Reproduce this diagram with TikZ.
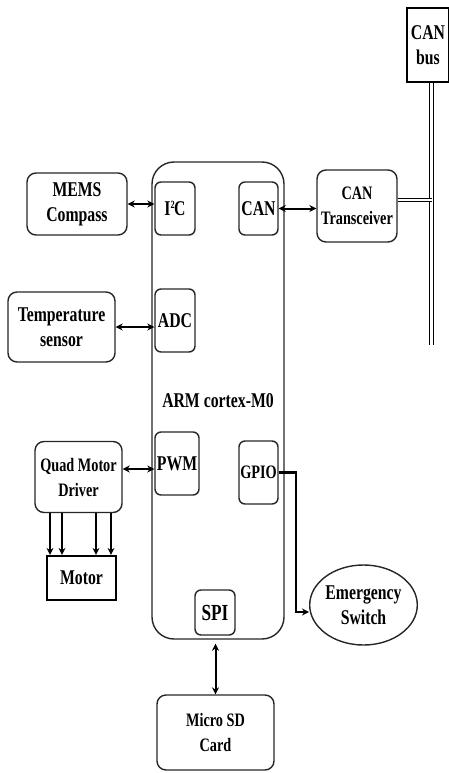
\documentclass[tikz,border=0pt]{standalone}
\usepackage{fontspec}
\setmainfont{Liberation Serif}[FakeStretch=0.75]
\usetikzlibrary{shapes.geometric, arrows.meta}

\begin{document}
\begin{tikzpicture}[
    x=1pt, y=-1pt,
    blockbox/.style={rectangle, draw=black!85, line width=1.4pt, rounded corners=9pt, align=center, inner sep=0pt, font=\fontsize{21}{25}\selectfont\bfseries},
    smallbox/.style={blockbox, font=\fontsize{19}{25}\selectfont\bfseries},
    portbox/.style={blockbox, rounded corners=6pt},
    plainbox/.style={rectangle, draw=black, line width=2.2pt, align=center, inner sep=0pt, font=\fontsize{21}{25}\selectfont\bfseries},
    ovalbox/.style={ellipse, draw=black!85, line width=1.4pt, inner sep=0pt, align=center, font=\fontsize{21}{25}\selectfont\bfseries},
    arr/.style={-{Stealth[length=7pt,width=7pt]}, line width=2pt},
    biarr/.style={{Stealth[length=7pt,width=7pt]}-{Stealth[length=7pt,width=7pt]}, line width=2pt},
    busline/.style={draw=black, double=white, double distance=2.5pt, line width=1.1pt}
]
\useasboundingbox (0,0) rectangle (449,773);

\node[blockbox, rounded corners=22pt, minimum width=132pt, minimum height=477pt] (arm) at (218,400.5) {ARM cortex-M0};

\node[portbox, minimum width=40pt, minimum height=53pt] (i2c) at (175,208.5) {I\textsuperscript{\fontsize{11}{11}\selectfont 2}\kern-1pt C};
\node[portbox, minimum width=39pt, minimum height=53pt] (can) at (258.5,208.5) {CAN};
\node[portbox, minimum width=40pt, minimum height=63pt] (adc) at (175,320.5) {ADC};
\node[portbox, minimum width=44pt, minimum height=63pt] (pwm) at (177,463.5) {PWM};
\node[portbox, minimum width=39pt, minimum height=63pt, font=\fontsize{19}{25}\selectfont\bfseries] (gpio) at (258.5,472.5) {GPIO};
\node[portbox, minimum width=40pt, minimum height=45pt, font=\fontsize{23}{25}\selectfont\bfseries] (spi) at (215,612.5) {SPI};

\node[blockbox, minimum width=100pt, minimum height=62pt] (mems) at (77,204) {MEMS\\Compass};
\node[blockbox, minimum width=107pt, minimum height=70pt] (temp) at (61.5,327) {Temperature\\sensor};
\node[smallbox, minimum width=87pt, minimum height=71pt] (quad) at (78.5,477) {Quad Motor\\Driver};
\node[plainbox, minimum width=69pt, minimum height=44pt] (motor) at (81.5,578) {Motor};
\node[smallbox, minimum width=80pt, minimum height=72pt] (trans) at (357,206) {CAN\\Transceiver};
\node[plainbox, minimum width=42pt, minimum height=74pt] (canbus) at (428,45) {CAN\\bus};
\node[smallbox, minimum width=117pt, minimum height=75pt] (sd) at (215.5,732.5) {Micro SD\\Card};
\node[ovalbox, minimum width=107pt, minimum height=80pt] (emerg) at (363.5,605) {Emergency\\Switch};

\coordinate (busend) at (431.5,345);

% links to the controller
\draw[biarr] (mems.east) -- (mems.east -| i2c.west);
\draw[biarr] (temp.east) -- (temp.east -| adc.west);
\draw[biarr] ([yshift=8pt]quad.east) -- ([yshift=8pt]quad.east -| pwm.west);
\draw[biarr] (can.east) -- (can.east -| trans.west);
\draw[biarr] (sd.north) -- ([yshift=-4pt]sd.north |- arm.south);
\draw[arr, line width=2.4pt] (gpio.east) -- ++(17,0) |- ([yshift=-7pt]emerg.west);

% motor lines
\foreach \dx in {-28.5,-16.5,17.5,32.5}
    \draw[arr] ([xshift=\dx pt]quad.south) -- ([xshift=\dx pt]quad.south |- motor.north);

% CAN bus
\draw[busline] (canbus.south -| busend) -- (busend);
\draw[busline] ([yshift=6pt]trans.east) -- ([yshift=6pt]trans.east -| busend);
\end{tikzpicture}
\end{document}
